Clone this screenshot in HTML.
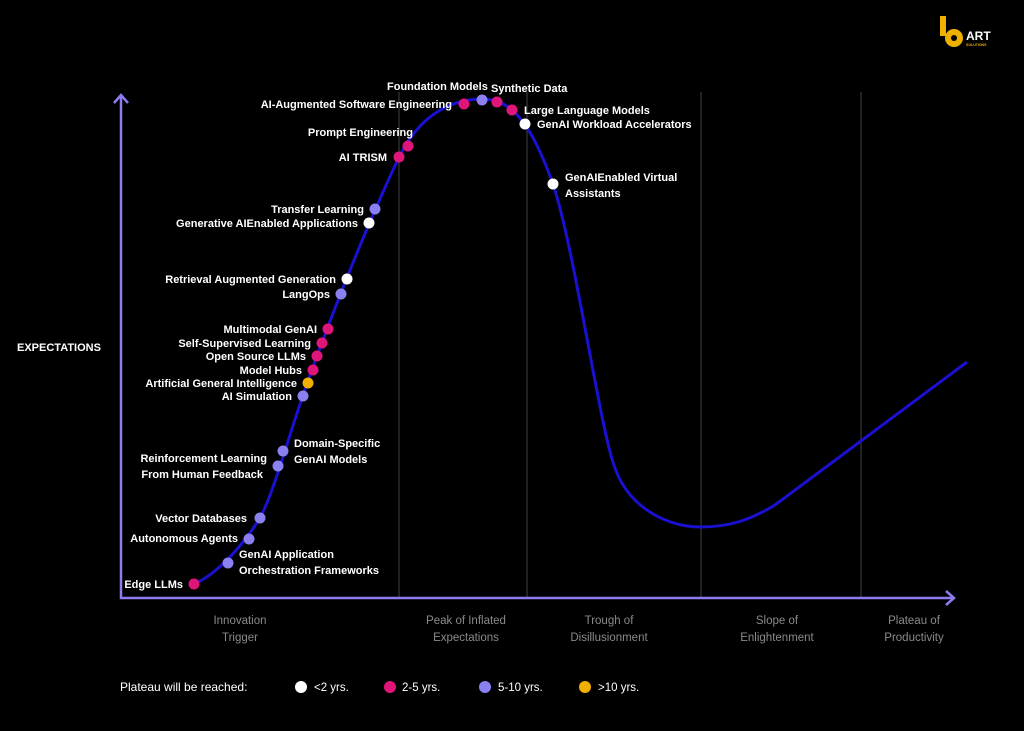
<!DOCTYPE html><html><head><style>body{margin:0;background:#000;}svg{display:block}text{font-family:"Liberation Sans",sans-serif;font-size:11px;fill:#fff;font-weight:bold}.c{fill:#8a8a8a;font-weight:normal;font-size:11.5px;text-anchor:middle}.r{text-anchor:end}</style></head><body>
<svg width="1024" height="731" viewBox="0 0 1024 731">
<rect width="1024" height="731" fill="#000"/>
<g stroke="#444" stroke-width="1"><line x1="399" y1="92" x2="399" y2="598"/><line x1="527" y1="92" x2="527" y2="598"/><line x1="701" y1="92" x2="701" y2="598"/><line x1="861" y1="92" x2="861" y2="598"/></g>
<g stroke="#8c7cf0" stroke-width="2.5" fill="none"><polyline points="121,96 121,598 954,598"/><polyline points="114,103 121,95 128,103"/><polyline points="946,591 954,598 946,605"/></g>
<path d="M194,584 C215,575 240,550 260,518 C275,490 290,430 310,375 C330,320 360,240 399,157 C420,115 450,100 480,99 C510,98 530,120 553,184 C575,250 600,430 615,468 C630,510 670,527 700,527 C730,527 750,520 775,505 L967,362" stroke="#1a10d0" stroke-width="3" fill="none"/>
<g>
<circle cx="194" cy="584" r="5.5" fill="#e0157a"/><circle cx="228" cy="563" r="5.5" fill="#8a80f0"/><circle cx="249" cy="539" r="5.5" fill="#8a80f0"/><circle cx="260" cy="518" r="5.5" fill="#8a80f0"/><circle cx="278" cy="466" r="5.5" fill="#8a80f0"/><circle cx="283" cy="451" r="5.5" fill="#8a80f0"/><circle cx="303" cy="396" r="5.5" fill="#8a80f0"/><circle cx="308" cy="383" r="5.5" fill="#f0b000"/><circle cx="313" cy="370" r="5.5" fill="#e0157a"/><circle cx="317" cy="356" r="5.5" fill="#e0157a"/><circle cx="322" cy="343" r="5.5" fill="#e0157a"/><circle cx="328" cy="329" r="5.5" fill="#e0157a"/><circle cx="341" cy="294" r="5.5" fill="#8a80f0"/><circle cx="347" cy="279" r="5.5" fill="#fff"/><circle cx="369" cy="223" r="5.5" fill="#fff"/><circle cx="375" cy="209" r="5.5" fill="#8a80f0"/><circle cx="399" cy="157" r="5.5" fill="#e0157a"/><circle cx="408" cy="146" r="5.5" fill="#e0157a"/><circle cx="464" cy="104" r="5.5" fill="#e0157a"/><circle cx="482" cy="100" r="5.5" fill="#8a80f0"/><circle cx="497" cy="102" r="5.5" fill="#e0157a"/><circle cx="512" cy="110" r="5.5" fill="#e0157a"/><circle cx="525" cy="124" r="5.5" fill="#fff"/><circle cx="553" cy="184" r="5.5" fill="#fff"/>
</g>
<text x="183" y="588" class="r">Edge LLMs</text>
<text x="239" y="558">GenAI Application</text><text x="239" y="574">Orchestration Frameworks</text>
<text x="238" y="542" class="r">Autonomous Agents</text>
<text x="247" y="522" class="r">Vector Databases</text>
<text x="267" y="462" class="r">Reinforcement Learning</text><text x="263" y="478" class="r">From Human Feedback</text>
<text x="294" y="447">Domain-Specific</text><text x="294" y="463">GenAI Models</text>
<text x="292" y="400" class="r">AI Simulation</text>
<text x="297" y="387" class="r">Artificial General Intelligence</text>
<text x="302" y="374" class="r">Model Hubs</text>
<text x="306" y="360" class="r">Open Source LLMs</text>
<text x="311" y="347" class="r">Self-Supervised Learning</text>
<text x="317" y="333" class="r">Multimodal GenAI</text>
<text x="330" y="298" class="r">LangOps</text>
<text x="336" y="283" class="r">Retrieval Augmented Generation</text>
<text x="358" y="227" class="r">Generative AIEnabled Applications</text>
<text x="364" y="213" class="r">Transfer Learning</text>
<text x="387" y="161" class="r">AI TRISM</text>
<text x="413" y="136" class="r">Prompt Engineering</text>
<text x="452" y="108" class="r">AI-Augmented Software Engineering</text>
<text x="387" y="90">Foundation Models</text>
<text x="491" y="92">Synthetic Data</text>
<text x="524" y="114">Large Language Models</text>
<text x="537" y="128">GenAI Workload Accelerators</text>
<text x="565" y="181">GenAIEnabled Virtual</text><text x="565" y="197">Assistants</text>
<text x="17" y="351">EXPECTATIONS</text>
<text x="240" y="624" class="c">Innovation</text><text x="240" y="641" class="c">Trigger</text>
<text x="466" y="624" class="c">Peak of Inflated</text><text x="466" y="641" class="c">Expectations</text>
<text x="609" y="624" class="c">Trough of</text><text x="609" y="641" class="c">Disillusionment</text>
<text x="777" y="624" class="c">Slope of</text><text x="777" y="641" class="c">Enlightenment</text>
<text x="914" y="624" class="c">Plateau of</text><text x="914" y="641" class="c">Productivity</text>
<text x="120" y="691" style="font-weight:normal;font-size:12px">Plateau will be reached:</text>
<circle cx="301" cy="687" r="6" fill="#fff"/><text x="314" y="691" style="font-weight:normal;font-size:11.5px">&lt;2 yrs.</text>
<circle cx="390" cy="687" r="6" fill="#e0157a"/><text x="402" y="691" style="font-weight:normal;font-size:11.5px">2-5 yrs.</text>
<circle cx="485" cy="687" r="6" fill="#8a80f0"/><text x="498" y="691" style="font-weight:normal;font-size:11.5px">5-10 yrs.</text>
<circle cx="585" cy="687" r="6" fill="#f0b000"/><text x="598" y="691" style="font-weight:normal;font-size:11.5px">&gt;10 yrs.</text>
<g fill="#f0b000"><rect x="940" y="16" width="6" height="20"/><circle cx="954" cy="38" r="9"/></g><circle cx="954" cy="38" r="3" fill="#000"/>
<text x="966" y="40" style="font-size:12px">ART</text><text x="966" y="46" style="font-size:3.5px;fill:#f0b000">SOLUTIONS</text>
</svg></body></html>
